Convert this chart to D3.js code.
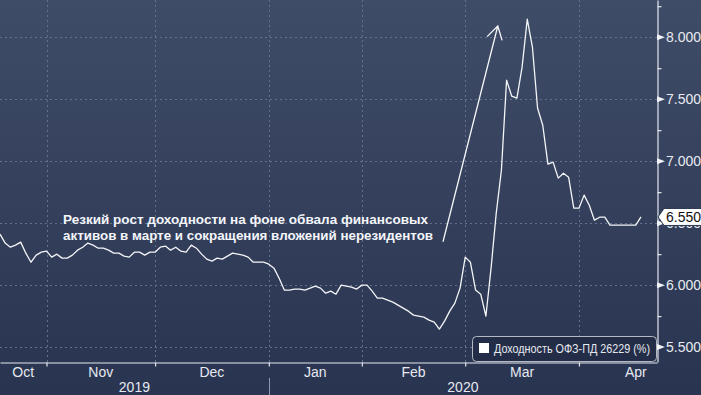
<!DOCTYPE html>
<html>
<head>
<meta charset="utf-8">
<script src="https://cdn.jsdelivr.net/npm/d3@7"></script>
<style>
  html, body { margin: 0; padding: 0; background: #2a3553; }
  svg { display: block; }
  text { font-family: "Liberation Sans", Arial, sans-serif; }
</style>
</head>
<body>
<svg id="chart"></svg>
<script>
// Доходность ОФЗ-ПД 26229, trading-day index (0 = first visible day in Oct 2019)
const yields = [
  6.411, 6.339, 6.306, 6.323, 6.347, 6.258, 6.185, 6.242, 6.266, 6.274,
  6.226, 6.250, 6.218, 6.218, 6.242, 6.282, 6.306, 6.339, 6.323, 6.298,
  6.298, 6.282, 6.258, 6.258, 6.234, 6.226, 6.266, 6.266, 6.242, 6.266,
  6.266, 6.306, 6.315, 6.282, 6.306, 6.274, 6.266, 6.323, 6.298, 6.250,
  6.210, 6.194, 6.218, 6.210, 6.234, 6.258, 6.250, 6.242, 6.226, 6.185,
  6.185, 6.185, 6.169, 6.137, 6.056, 5.960, 5.960, 5.968, 5.968, 5.960,
  5.976, 5.992, 5.976, 5.935, 5.952, 5.927, 6.000, 5.992, 5.984, 5.968,
  6.000, 6.000, 5.952, 5.895, 5.895, 5.879, 5.863, 5.839, 5.815, 5.790,
  5.758, 5.750, 5.742, 5.718, 5.702, 5.645, 5.710, 5.790, 5.855, 5.976,
  6.226, 6.185, 5.960, 5.927, 5.750, 6.137, 6.581, 6.927, 7.653, 7.524,
  7.508, 7.758, 8.145, 7.919, 7.427, 7.290, 6.976, 6.992, 6.863, 6.903,
  6.871, 6.621, 6.621, 6.726, 6.645, 6.524, 6.548, 6.548, 6.484, 6.484,
  6.484, 6.484, 6.484, 6.484, 6.550
];

// month labels and the trading-day index where each month starts (last = May)
const monthLabels = ['Oct', 'Nov', 'Dec', 'Jan', 'Feb', 'Mar', 'Apr'];
const monthStarts = [-14, 9, 30, 52, 70, 90, 112, 134];

const yearLabels = ['2019', '2020'];
const yearStarts = [-14, 52, 134];

const yTicks = [5.5, 6.0, 6.5, 7.0, 7.5, 8.0];
const yMinorTicks = [5.75, 6.25, 6.75, 7.25, 7.75, 8.25];

const seriesName = 'Доходность ОФЗ-ПД 26229 (%)';
const noteLines = [
  'Резкий рост доходности на фоне обвала финансовых',
  'активов в марте и сокращения вложений нерезидентов'
];
// arrow of the note, [index, yield]
const arrowFrom = [85.7, 6.35];
const arrowTo = [96.3, 8.09];
const noteAt = [12.2, 6.5];

class YieldChart {

  constructor(_config, _data) {
    this.config = {
      parentElement: _config.parentElement,
      containerWidth: _config.containerWidth || 701,
      containerHeight: _config.containerHeight || 395,
      plotWidth: _config.plotWidth || 657,
      plotHeight: _config.plotHeight || 362,
      xDomain: _config.xDomain || [0, 127.1],
      yDomain: _config.yDomain || [5.38, 8.30],
      noteWidths: _config.noteWidths || [365, 370]
    };
    this.data = _data;
    this.initVis();
  }

  initVis() {
    let vis = this;
    const c = vis.config;

    vis.svg = d3.select(c.parentElement)
        .attr('width', c.containerWidth)
        .attr('height', c.containerHeight);

    const grad = vis.svg.append('defs').append('linearGradient')
        .attr('id', 'bg').attr('x1', 0).attr('y1', 0).attr('x2', 0).attr('y2', 1);
    grad.append('stop').attr('offset', '0%').attr('stop-color', '#3f4c67');
    grad.append('stop').attr('offset', '100%').attr('stop-color', '#293451');

    vis.svg.append('rect')
        .attr('width', c.containerWidth)
        .attr('height', c.containerHeight)
        .attr('fill', 'url(#bg)');

    vis.xScale = d3.scaleLinear().domain(c.xDomain).range([0, c.plotWidth]);
    vis.yScale = d3.scaleLinear().domain(c.yDomain).range([c.plotHeight, 0]);

    vis.chart = vis.svg.append('g');
    vis.renderVis();
  }

  renderVis() {
    let vis = this;
    const c = vis.config;
    const x = vis.xScale, y = vis.yScale;
    const innerStarts = monthStarts.filter(d => d > c.xDomain[0] && d < c.xDomain[1]);

    // grid
    vis.chart.append('g').selectAll('line.hgrid')
        .data(yTicks)
        .join('line')
        .attr('x1', 0).attr('x2', c.plotWidth)
        .attr('y1', d => Math.round(y(d)) + 0.5).attr('y2', d => Math.round(y(d)) + 0.5)
        .attr('stroke', '#62718e').attr('stroke-dasharray', '2,3');

    vis.chart.append('g').selectAll('line.vgrid')
        .data(innerStarts)
        .join('line')
        .attr('x1', d => Math.round(x(d)) + 0.5).attr('x2', d => Math.round(x(d)) + 0.5)
        .attr('y1', 0).attr('y2', c.plotHeight)
        .attr('stroke', '#62718e').attr('stroke-dasharray', '2,3');

    // bottom axis
    const xAxis = d3.axisBottom(x).tickValues(innerStarts).tickSize(4).tickSizeOuter(0).tickFormat('');
    const xAxisG = vis.chart.append('g')
        .attr('transform', `translate(0,${c.plotHeight + 0.5})`)
        .call(xAxis);
    xAxisG.selectAll('path, line').attr('stroke', '#e4e7ee').attr('stroke-width', 1.2);

    // month labels, centred on each month (clipped at the left edge)
    vis.chart.append('g').selectAll('text')
        .data(monthLabels)
        .join('text')
        .attr('x', (d, i) => (x(Math.max(monthStarts[i], c.xDomain[0])) + x(monthStarts[i + 1])) / 2)
        .attr('y', 377)
        .attr('text-anchor', 'middle')
        .attr('font-size', 14)
        .attr('fill', '#e6e9ef')
        .text(d => d);

    // year labels and separator
    vis.chart.append('g').selectAll('text')
        .data(yearLabels)
        .join('text')
        .attr('x', (d, i) => (x(Math.max(yearStarts[i], c.xDomain[0])) + x(Math.min(yearStarts[i + 1], c.xDomain[1]))) / 2)
        .attr('y', 392)
        .attr('text-anchor', 'middle')
        .attr('font-size', 14)
        .attr('fill', '#e6e9ef')
        .text(d => d);

    vis.chart.append('g').selectAll('line')
        .data(yearStarts.slice(1, -1))
        .join('line')
        .attr('x1', d => Math.round(x(d)) + 0.5).attr('x2', d => Math.round(x(d)) + 0.5)
        .attr('y1', 378).attr('y2', c.containerHeight)
        .attr('stroke', '#8f98ab');

    // right axis: minor ticks + domain line
    const yAxis = d3.axisRight(y).tickValues(yMinorTicks).tickSize(4).tickSizeOuter(0).tickFormat('');
    const yAxisG = vis.chart.append('g')
        .attr('transform', `translate(${c.plotWidth + 0.5},0)`)
        .call(yAxis);
    yAxisG.selectAll('path, line').attr('stroke', '#e4e7ee').attr('stroke-width', 1.2);

    // major ticks are little flags
    vis.chart.append('g').selectAll('path')
        .data(yTicks)
        .join('path')
        .attr('d', d => `M${c.plotWidth},${y(d) - 3}L${c.plotWidth + 8},${y(d)}L${c.plotWidth},${y(d) + 3}Z`)
        .attr('fill', '#f2f3f6');

    // the last value box covers most of a nearby tick label, as in the original
    const last = vis.data[vis.data.length - 1];
    const ly = y(last);

    vis.chart.append('g').selectAll('text')
        .data(yTicks)
        .join('text')
        .attr('x', c.plotWidth + 9)
        .attr('y', d => y(d) + 5)
        .attr('font-size', 14)
        .attr('fill', '#e8ebf0')
        .text(d => d3.format('.3f')(d));

    // the series
    const line = d3.line()
        .x((d, i) => x(i))
        .y(d => y(d));

    vis.chart.append('path')
        .datum(vis.data)
        .attr('d', line)
        .attr('fill', 'none')
        .attr('stroke', '#f4f5f7')
        .attr('stroke-width', 1.3)
        .attr('stroke-linejoin', 'round');

    // last value callout
    vis.chart.append('path')
        .attr('d', `M${c.plotWidth + 1},${ly}L${c.plotWidth + 7},${ly - 8.5}L${c.containerWidth + 2},${ly - 8.5}L${c.containerWidth + 2},${ly + 8.5}L${c.plotWidth + 7},${ly + 8.5}Z`)
        .attr('fill', '#ffffff')
        .attr('stroke', '#2a3553');
    vis.chart.append('text')
        .attr('x', c.plotWidth + 9)
        .attr('y', ly + 5)
        .attr('font-size', 14)
        .attr('fill', '#111')
        .text(d3.format('.3f')(last));

    // note text and arrow
    vis.chart.append('g').selectAll('text')
        .data(noteLines)
        .join('text')
        .attr('x', x(noteAt[0]))
        .attr('y', (d, i) => y(noteAt[1]) + 1 + i * 16)
        .attr('font-size', 13.5)
        .attr('font-weight', 'bold')
        .attr('textLength', (d, i) => c.noteWidths[i])
        .attr('lengthAdjust', 'spacingAndGlyphs')
        .attr('fill', '#f4f6fa')
        .text(d => d);

    const x0 = x(arrowFrom[0]), y0 = y(arrowFrom[1]);
    const x1 = x(arrowTo[0]), y1 = y(arrowTo[1]);
    const ang = Math.atan2(y0 - y1, x0 - x1);
    const head = 15, spread = 0.54;
    const wing = a => [x1 + head * Math.cos(a), y1 + head * Math.sin(a)];
    const w1 = wing(ang + spread), w2 = wing(ang - spread);
    vis.chart.append('path')
        .attr('d', `M${x0},${y0}L${x1},${y1}M${w1[0]},${w1[1]}L${x1},${y1}L${w2[0]},${w2[1]}`)
        .attr('fill', 'none')
        .attr('stroke', '#f4f5f7')
        .attr('stroke-width', 1.3);

    // legend
    const lg = vis.chart.append('g')
        .attr('transform', `translate(${c.plotWidth - 185},${c.plotHeight - 26})`);
    lg.append('rect')
        .attr('x', 0.5).attr('y', 0.5)
        .attr('width', 184).attr('height', 25)
        .attr('rx', 4)
        .attr('fill', '#232d47')
        .attr('stroke', '#b4b9c4');
    lg.append('rect')
        .attr('x', 7).attr('y', 7)
        .attr('width', 10).attr('height', 10)
        .attr('fill', '#ffffff');
    lg.append('text')
        .attr('x', 22).attr('y', 17)
        .attr('font-size', 12)
        .attr('textLength', 156)
        .attr('lengthAdjust', 'spacingAndGlyphs')
        .attr('fill', '#e6e9ef')
        .text(seriesName);
  }
}

new YieldChart({ parentElement: '#chart' }, yields);
</script>
</body>
</html>
